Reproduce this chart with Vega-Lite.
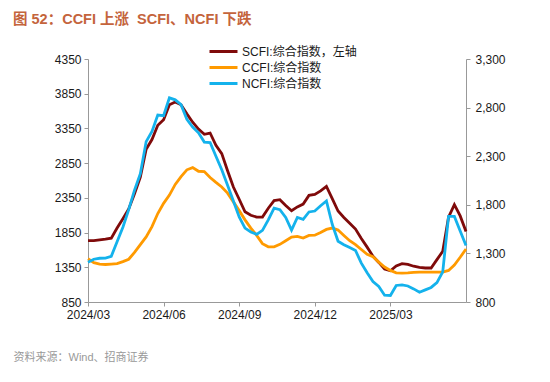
{
  "$schema": "https://vega.github.io/schema/vega-lite/v6.json",
  "width": 378,
  "height": 243,
  "autosize": {"type": "none"},
  "padding": {"left": 88, "top": 59, "right": 84, "bottom": 80},
  "background": "white",
  "title": {
    "text": "图 52：CCFI 上涨\u00a0 SCFI、NCFI 下跌",
    "anchor": "start",
    "frame": "group",
    "dx": -75,
    "offset": 16,
    "font": "Liberation Sans, Noto Sans CJK SC",
    "fontSize": 14.5,
    "fontWeight": "bold",
    "color": "#C4643C"
  },
  "config": {
    "font": "Liberation Sans, Noto Sans CJK SC",
    "view": {"stroke": null},
    "legend": {"title": null},
    "axis": {
      "domainColor": "#999999",
      "tickColor": "#999999",
      "labelColor": "#1a1a1a",
      "labelFontSize": 12,
      "labelFont": "Liberation Sans",
      "grid": false,
      "tickSize": 4
    }
  },
  "data": {
    "values": [
      {"d": "2024-03-22", "SCFI": 1733, "CCFI": 1245, "NCFI": 1210},
      {"d": "2024-03-29", "SCFI": 1733, "CCFI": 1205, "NCFI": 1240},
      {"d": "2024-04-05", "SCFI": 1745, "CCFI": 1190, "NCFI": 1250},
      {"d": "2024-04-12", "SCFI": 1755, "CCFI": 1186, "NCFI": 1252},
      {"d": "2024-04-19", "SCFI": 1770, "CCFI": 1190, "NCFI": 1270},
      {"d": "2024-04-26", "SCFI": 1915, "CCFI": 1195, "NCFI": 1420},
      {"d": "2024-05-03", "SCFI": 2050, "CCFI": 1215, "NCFI": 1570},
      {"d": "2024-05-10", "SCFI": 2190, "CCFI": 1240, "NCFI": 1750},
      {"d": "2024-05-17", "SCFI": 2410, "CCFI": 1310, "NCFI": 1950},
      {"d": "2024-05-24", "SCFI": 2650, "CCFI": 1390, "NCFI": 2120},
      {"d": "2024-05-31", "SCFI": 3050, "CCFI": 1470, "NCFI": 2450},
      {"d": "2024-06-07", "SCFI": 3190, "CCFI": 1575, "NCFI": 2555},
      {"d": "2024-06-14", "SCFI": 3395, "CCFI": 1710, "NCFI": 2723},
      {"d": "2024-06-21", "SCFI": 3475, "CCFI": 1815, "NCFI": 2716},
      {"d": "2024-06-28", "SCFI": 3690, "CCFI": 1900, "NCFI": 2900},
      {"d": "2024-07-05", "SCFI": 3730, "CCFI": 2010, "NCFI": 2880},
      {"d": "2024-07-12", "SCFI": 3690, "CCFI": 2090, "NCFI": 2830},
      {"d": "2024-07-19", "SCFI": 3560, "CCFI": 2160, "NCFI": 2680},
      {"d": "2024-07-26", "SCFI": 3440, "CCFI": 2183, "NCFI": 2600},
      {"d": "2024-08-02", "SCFI": 3340, "CCFI": 2145, "NCFI": 2540},
      {"d": "2024-08-09", "SCFI": 3265, "CCFI": 2142, "NCFI": 2445},
      {"d": "2024-08-16", "SCFI": 3284, "CCFI": 2080, "NCFI": 2441},
      {"d": "2024-08-23", "SCFI": 3106, "CCFI": 2030, "NCFI": 2300},
      {"d": "2024-08-30", "SCFI": 2987, "CCFI": 1983, "NCFI": 2160},
      {"d": "2024-09-06", "SCFI": 2740, "CCFI": 1920, "NCFI": 2000},
      {"d": "2024-09-13", "SCFI": 2506, "CCFI": 1830, "NCFI": 1840},
      {"d": "2024-09-20", "SCFI": 2330, "CCFI": 1740, "NCFI": 1675},
      {"d": "2024-09-27", "SCFI": 2150, "CCFI": 1645, "NCFI": 1560},
      {"d": "2024-10-04", "SCFI": 2100, "CCFI": 1560, "NCFI": 1520},
      {"d": "2024-10-11", "SCFI": 2073, "CCFI": 1485, "NCFI": 1496},
      {"d": "2024-10-18", "SCFI": 2073, "CCFI": 1400, "NCFI": 1537},
      {"d": "2024-10-25", "SCFI": 2200, "CCFI": 1368, "NCFI": 1645},
      {"d": "2024-11-01", "SCFI": 2310, "CCFI": 1368, "NCFI": 1765},
      {"d": "2024-11-08", "SCFI": 2324, "CCFI": 1393, "NCFI": 1750},
      {"d": "2024-11-15", "SCFI": 2240, "CCFI": 1430, "NCFI": 1670},
      {"d": "2024-11-22", "SCFI": 2165, "CCFI": 1468, "NCFI": 1540},
      {"d": "2024-11-29", "SCFI": 2220, "CCFI": 1475, "NCFI": 1670},
      {"d": "2024-12-06", "SCFI": 2260, "CCFI": 1458, "NCFI": 1650},
      {"d": "2024-12-13", "SCFI": 2386, "CCFI": 1485, "NCFI": 1726},
      {"d": "2024-12-20", "SCFI": 2400, "CCFI": 1487, "NCFI": 1736},
      {"d": "2024-12-27", "SCFI": 2450, "CCFI": 1515, "NCFI": 1790},
      {"d": "2025-01-03", "SCFI": 2516, "CCFI": 1547, "NCFI": 1839},
      {"d": "2025-01-10", "SCFI": 2340, "CCFI": 1561, "NCFI": 1600},
      {"d": "2025-01-17", "SCFI": 2160, "CCFI": 1540, "NCFI": 1425},
      {"d": "2025-01-24", "SCFI": 2068, "CCFI": 1485, "NCFI": 1390},
      {"d": "2025-01-31", "SCFI": 1985, "CCFI": 1430, "NCFI": 1360},
      {"d": "2025-02-07", "SCFI": 1900, "CCFI": 1390, "NCFI": 1330},
      {"d": "2025-02-14", "SCFI": 1765, "CCFI": 1340, "NCFI": 1200},
      {"d": "2025-02-21", "SCFI": 1640, "CCFI": 1290, "NCFI": 1100},
      {"d": "2025-02-28", "SCFI": 1510, "CCFI": 1265, "NCFI": 1010},
      {"d": "2025-03-07", "SCFI": 1420, "CCFI": 1210, "NCFI": 960},
      {"d": "2025-03-14", "SCFI": 1325, "CCFI": 1160, "NCFI": 870},
      {"d": "2025-03-21", "SCFI": 1300, "CCFI": 1125, "NCFI": 867},
      {"d": "2025-03-28", "SCFI": 1370, "CCFI": 1100, "NCFI": 970},
      {"d": "2025-04-04", "SCFI": 1402, "CCFI": 1097, "NCFI": 977},
      {"d": "2025-04-11", "SCFI": 1392, "CCFI": 1100, "NCFI": 965},
      {"d": "2025-04-18", "SCFI": 1365, "CCFI": 1105, "NCFI": 935},
      {"d": "2025-04-25", "SCFI": 1350, "CCFI": 1107, "NCFI": 900},
      {"d": "2025-05-02", "SCFI": 1340, "CCFI": 1107, "NCFI": 925},
      {"d": "2025-05-09", "SCFI": 1340, "CCFI": 1107, "NCFI": 950},
      {"d": "2025-05-16", "SCFI": 1460, "CCFI": 1107, "NCFI": 1000},
      {"d": "2025-05-23", "SCFI": 1580, "CCFI": 1107, "NCFI": 1110},
      {"d": "2025-05-30", "SCFI": 2073, "CCFI": 1125, "NCFI": 1681},
      {"d": "2025-06-06", "SCFI": 2252, "CCFI": 1180, "NCFI": 1681},
      {"d": "2025-06-13", "SCFI": 2090, "CCFI": 1260, "NCFI": 1530},
      {"d": "2025-06-20", "SCFI": 1867, "CCFI": 1345, "NCFI": 1382}
    ]
  },
  "layer": [
    {
      "mark": {"type": "line", "strokeWidth": 2.8},
      "encoding": {
        "x": {
          "field": "d",
          "type": "temporal",
          "scale": {
            "type": "utc",
            "domain": [
              {"year": 2024, "month": 3, "date": 22, "utc": true},
              {"year": 2025, "month": 6, "date": 20, "utc": true}
            ],
            "nice": false
          },
          "axis": {
            "values": [
              {"year": 2024, "month": 3, "date": 22, "utc": true},
              {"year": 2024, "month": 6, "date": 21, "utc": true},
              {"year": 2024, "month": 9, "date": 20, "utc": true},
              {"year": 2024, "month": 12, "date": 20, "utc": true},
              {"year": 2025, "month": 3, "date": 21, "utc": true}
            ],
            "format": "%Y/%m",
            "labelPadding": 3,
            "labelFlush": false,
            "title": "资料来源：Wind、招商证券",
            "titleX": -75,
            "titleY": 55,
            "titleAnchor": null,
            "titleAlign": "left",
            "titleBaseline": "middle",
            "titleColor": "#999999",
            "titleFontSize": 11,
            "titleFontWeight": "normal",
            "titleFont": "Liberation Sans, Noto Sans CJK SC"
          }
        },
        "y": {
          "field": "SCFI",
          "type": "quantitative",
          "scale": {"domain": [850, 4350], "nice": false, "zero": false},
          "axis": {
            "orient": "left",
            "values": [850, 1350, 1850, 2350, 2850, 3350, 3850, 4350],
            "format": "d",
            "title": null,
            "labelPadding": 3
          }
        },
        "color": {
          "datum": "SCFI",
          "type": "nominal",
          "scale": {
            "domain": ["SCFI", "CCFI", "NCFI"],
            "range": ["#7F0A0A", "#FF9A00", "#14B2EC"]
          },
          "legend": {
            "orient": "none",
            "legendX": 127,
            "legendY": -16,
            "title": null,
            "padding": 0,
            "symbolType": "M-2,0H2",
            "symbolSize": 196,
            "symbolStrokeWidth": 3,
            "labelFontSize": 12,
            "labelColor": "#1a1a1a",
            "labelFont": "Liberation Sans, Noto Sans CJK SC",
            "labelOffset": 10,
            "rowPadding": 1,
            "labelExpr": "datum.label + ':综合指数' + (datum.label == 'SCFI' ? '，左轴' : '')"
          }
        }
      }
    },
    {
      "transform": [{"fold": ["CCFI", "NCFI"], "as": ["s", "v"]}],
      "mark": {"type": "line", "strokeWidth": 2.8},
      "encoding": {
        "x": {"field": "d", "type": "temporal"},
        "y": {
          "field": "v",
          "type": "quantitative",
          "scale": {"domain": [800, 3300], "nice": false, "zero": false},
          "axis": {
            "orient": "right",
            "values": [800, 1300, 1800, 2300, 2800, 3300],
            "format": ",d",
            "title": null,
            "labelPadding": 5
          }
        },
        "color": {"field": "s", "type": "nominal", "legend": {"title": null}}
      }
    }
  ],
  "resolve": {"scale": {"y": "independent"}}
}
